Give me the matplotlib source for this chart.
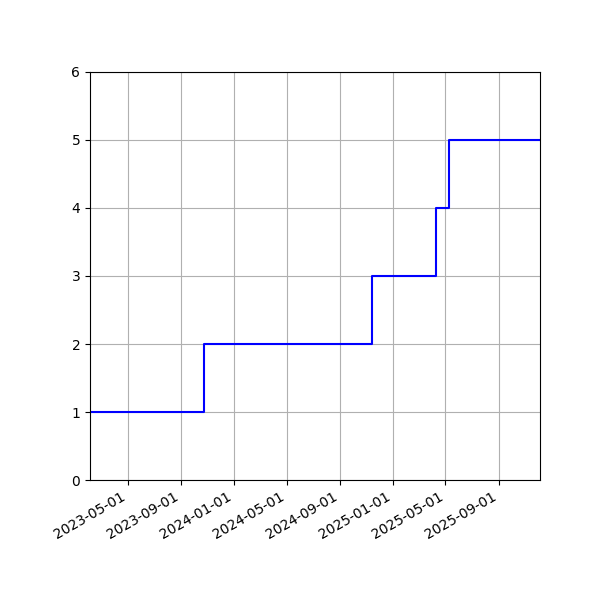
import numpy as np
import pandas as pd
import matplotlib
matplotlib.use("Agg")
import matplotlib.pyplot as plt
import matplotlib.dates as mdates

dates = pd.to_datetime(["2023-02-03", "2023-10-23", "2024-11-13",
                        "2025-04-09", "2025-05-09", "2025-12-05"])
counts = [1, 2, 3, 4, 5, 5]

fig = plt.figure(figsize=(6, 6), dpi=100)
ax = fig.add_axes([0.15, 0.2, 0.75, 0.68])
ax.step(dates, counts, where="post", color="blue")
ax.set_xlim(dates[0], dates[-1])
ax.set_ylim(0, 6)
ax.xaxis.set_major_locator(mdates.MonthLocator(bymonth=[1, 5, 9]))
ax.xaxis.set_major_formatter(mdates.DateFormatter("%Y-%m-%d"))
ax.grid(True)
for lbl in ax.get_xticklabels():
    lbl.set_rotation(30)
    lbl.set_ha("right")
fig.savefig("out.png")
